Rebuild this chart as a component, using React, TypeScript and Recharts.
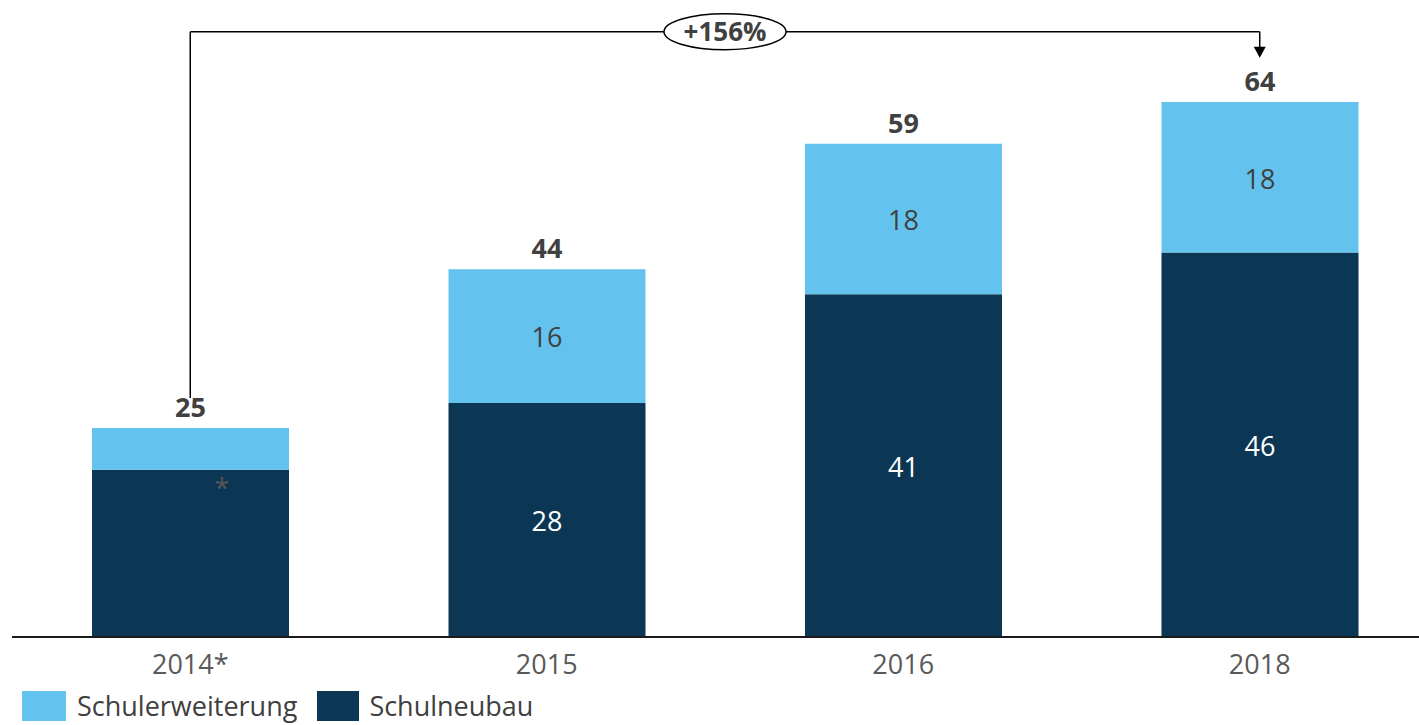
import React from 'react';
import { BarChart, Bar, XAxis, YAxis, LabelList, ReferenceLine, Legend } from 'recharts';

const years = ['2014*', '2015', '2016', '2018'];
const neubau = [20, 28, 41, 46];
const erweiterung = [5, 16, 18, 18];
const totals = [25, 44, 59, 64];
const neubauLabels = ['*', '28', '41', '46'];
const erweiterungLabels = ['', '16', '18', '18'];
const growthLabel = '+156%';

const LIGHT = '#63C3EE';
const DARK = '#0B3654';
const FONT = '"Open Sans", sans-serif';

const data = years.map((year, i) => ({
  year,
  neubau: neubau[i],
  erweiterung: erweiterung[i],
  total: totals[i],
  neubauLabel: neubauLabels[i],
  erweiterungLabel: erweiterungLabels[i],
}));

const renderDarkLabel = (props: any) => {
  const { x, y, width, height, value } = props;
  if (!value) return null;
  if (value === '*') {
    // footnote mark sits off-centre near the top of the 2014 bar
    return (
      <text x={x + width * 0.66} y={y + 28} textAnchor="middle" fill="#555" fontSize={27} fontFamily={FONT}>
        {value}
      </text>
    );
  }
  return (
    <text x={x + width / 2} y={y + height / 2} dy="0.42em" textAnchor="middle" fill="#fff" fontSize={27} fontFamily={FONT}>
      {value}
    </text>
  );
};

const renderLightLabel = (props: any) => {
  const { x, y, width, height, value } = props;
  if (!value) return null;
  return (
    <text x={x + width / 2} y={y + height / 2} dy="0.42em" textAnchor="middle" fill="#404040" fontSize={27} fontFamily={FONT}>
      {value}
    </text>
  );
};

const renderTotal = (props: any) => {
  const { x, y, width, value } = props;
  return (
    <text x={x + width / 2} y={y - 11} textAnchor="middle" fill="#404040" fontSize={27} fontWeight={700} fontFamily={FONT}>
      {value}
    </text>
  );
};

const Tick = (props: any) => {
  const { x, y, payload } = props;
  return (
    <text x={x} y={y} dy={29} textAnchor="middle" fill="#595959" fontSize={27} fontFamily={FONT}>
      {payload.value}
    </text>
  );
};

const bracketLine = (p: any) => (
  <line x1={p.x1} y1={p.y1} x2={p.x2} y2={p.y2} stroke="#000" strokeWidth={1.5} />
);

const bracketTop = (p: any) => {
  const cx = (p.x1 + p.x2) / 2;
  return (
    <g>
      <line x1={p.x1} y1={p.y1} x2={p.x2} y2={p.y2} stroke="#000" strokeWidth={1.5} />
      <ellipse cx={cx} cy={p.y1} rx={61} ry={18} fill="#fff" stroke="#000" strokeWidth={1.5} />
      <text x={cx} y={p.y1} dy="0.36em" textAnchor="middle" fill="#404040" fontSize={26} fontWeight={700} fontFamily={FONT}>
        {growthLabel}
      </text>
    </g>
  );
};

const bracketArrow = (p: any) => (
  <g>
    <line x1={p.x1} y1={p.y1} x2={p.x2} y2={p.y2 - 10} stroke="#000" strokeWidth={1.5} />
    <polygon points={`${p.x2 - 6},${p.y2 - 11} ${p.x2 + 6},${p.y2 - 11} ${p.x2},${p.y2}`} fill="#000" />
  </g>
);

const renderLegend = () => (
  <div style={{ display: 'flex', alignItems: 'center', fontFamily: FONT, fontSize: 27, color: '#404040', paddingLeft: 10 }}>
    <span style={{ width: 44, height: 30, background: LIGHT, display: 'inline-block', marginRight: 11 }} />
    <span style={{ marginRight: 20 }}>Schulerweiterung</span>
    <span style={{ width: 42, height: 30, background: DARK, display: 'inline-block', marginRight: 10 }} />
    <span>Schulneubau</span>
  </div>
);

export default function App() {
  return (
    <div style={{ position: 'fixed', left: 0, top: 0, width: 1419, height: 725, overflow: 'hidden', background: '#fff' }}>
      <BarChart width={1440} height={725} data={data} margin={{ top: 10, right: 2, bottom: 0, left: 12 }} barSize={197}>
        <XAxis
          dataKey="year"
          height={50}
          tickLine={false}
          axisLine={{ stroke: '#1a1a1a', strokeWidth: 2 }}
          tick={<Tick />}
          interval={0}
        />
        <YAxis hide domain={[0, 75]} />
        <Legend verticalAlign="bottom" align="left" height={38} content={renderLegend} />
        <Bar dataKey="neubau" stackId="a" fill={DARK} isAnimationActive={false}>
          <LabelList dataKey="neubauLabel" content={renderDarkLabel} />
        </Bar>
        <Bar dataKey="erweiterung" stackId="a" fill={LIGHT} isAnimationActive={false}>
          <LabelList dataKey="erweiterungLabel" content={renderLightLabel} />
          <LabelList dataKey="total" content={renderTotal} />
        </Bar>
        <ReferenceLine segment={[{ x: '2014*', y: 28.6 }, { x: '2014*', y: 72.4 }]} shape={bracketLine} />
        <ReferenceLine segment={[{ x: '2014*', y: 72.4 }, { x: '2018', y: 72.4 }]} shape={bracketTop} />
        <ReferenceLine segment={[{ x: '2018', y: 72.4 }, { x: '2018', y: 69.3 }]} shape={bracketArrow} />
      </BarChart>
    </div>
  );
}
